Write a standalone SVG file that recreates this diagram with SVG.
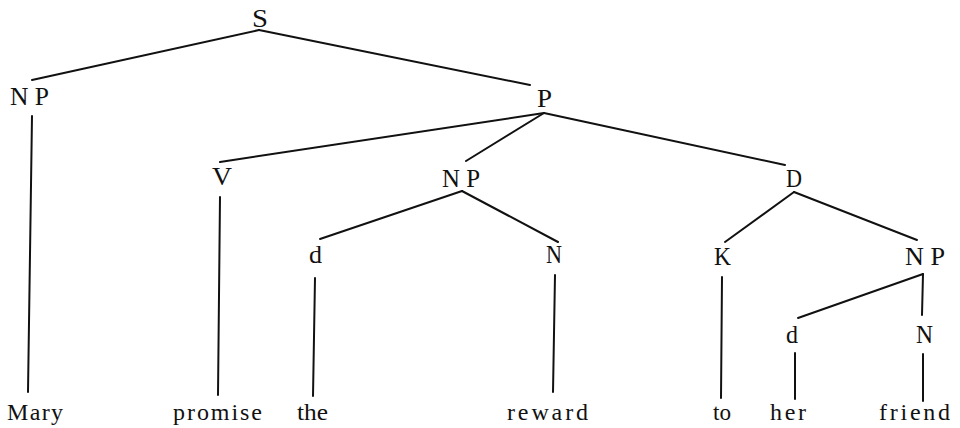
<svg xmlns="http://www.w3.org/2000/svg" width="960" height="428" viewBox="0 0 960 428">
<style>
.lbl{font-family:"Liberation Serif","Times New Roman",serif;font-size:26px;fill:#111}
.wd{font-family:"Liberation Serif","Times New Roman",serif;font-size:24px;fill:#111}
.edges line{stroke:#111;stroke-width:2;stroke-linecap:round}
</style>
<rect width="960" height="428" fill="#fff"/>
<g class="edges" id="connectors">
<line x1="259" y1="30" x2="32" y2="80"/>
<line x1="259" y1="30" x2="530" y2="85"/>
<line x1="32" y1="116" x2="28" y2="392"/>
<line x1="544" y1="113" x2="220" y2="162"/>
<line x1="544" y1="113" x2="466" y2="161"/>
<line x1="544" y1="113" x2="785" y2="165"/>
<line x1="220" y1="197" x2="218" y2="395"/>
<line x1="462" y1="191" x2="320" y2="239"/>
<line x1="462" y1="191" x2="558" y2="242"/>
<line x1="315" y1="278" x2="313" y2="396"/>
<line x1="555" y1="275" x2="553" y2="392"/>
<line x1="794" y1="192" x2="725" y2="242"/>
<line x1="794" y1="192" x2="917" y2="240"/>
<line x1="722" y1="277" x2="721" y2="398"/>
<line x1="923" y1="274" x2="798" y2="318"/>
<line x1="923" y1="274" x2="922" y2="315"/>
<line x1="795" y1="353" x2="795" y2="399"/>
<line x1="923" y1="354" x2="923" y2="401"/>
</g>
<g id="n-S"><text class="lbl" x="252" y="27" textLength="16" lengthAdjust="spacingAndGlyphs">S</text></g>
<g id="n-NP1"><text class="lbl" x="10" y="105" textLength="39" lengthAdjust="spacingAndGlyphs">N P</text></g>
<g id="n-P"><text class="lbl" x="537" y="107" textLength="15" lengthAdjust="spacingAndGlyphs">P</text></g>
<g id="n-V"><text class="lbl" x="212" y="185" textLength="20" lengthAdjust="spacingAndGlyphs">V</text></g>
<g id="n-NP2"><text class="lbl" x="442" y="187" textLength="38" lengthAdjust="spacingAndGlyphs">N P</text></g>
<g id="n-D"><text class="lbl" x="786" y="187" textLength="16" lengthAdjust="spacingAndGlyphs">D</text></g>
<g id="n-d1"><text class="lbl" x="309" y="263" textLength="13" lengthAdjust="spacingAndGlyphs">d</text></g>
<g id="n-N1"><text class="lbl" x="546" y="263" textLength="16" lengthAdjust="spacingAndGlyphs">N</text></g>
<g id="n-K"><text class="lbl" x="714" y="265" textLength="17" lengthAdjust="spacingAndGlyphs">K</text></g>
<g id="n-NP3"><text class="lbl" x="905" y="265" textLength="40" lengthAdjust="spacingAndGlyphs">N P</text></g>
<g id="n-d2"><text class="lbl" x="786" y="343" textLength="12" lengthAdjust="spacingAndGlyphs">d</text></g>
<g id="n-N2"><text class="lbl" x="916" y="343" textLength="17" lengthAdjust="spacingAndGlyphs">N</text></g>
<g id="w-Mary"><text class="wd" x="7" y="420" textLength="56" lengthAdjust="spacing">Mary</text></g>
<g id="w-promise"><text class="wd" x="173" y="420" textLength="89" lengthAdjust="spacing">promise</text></g>
<g id="w-the"><text class="wd" x="297" y="420" textLength="31" lengthAdjust="spacingAndGlyphs">the</text></g>
<g id="w-reward"><text class="wd" x="507" y="420" textLength="81" lengthAdjust="spacing">reward</text></g>
<g id="w-to"><text class="wd" x="713" y="420" textLength="18" lengthAdjust="spacingAndGlyphs">to</text></g>
<g id="w-her"><text class="wd" x="770" y="420" textLength="36" lengthAdjust="spacing">her</text></g>
<g id="w-friend"><text class="wd" x="879" y="420" textLength="71" lengthAdjust="spacing">friend</text></g>
</svg>
